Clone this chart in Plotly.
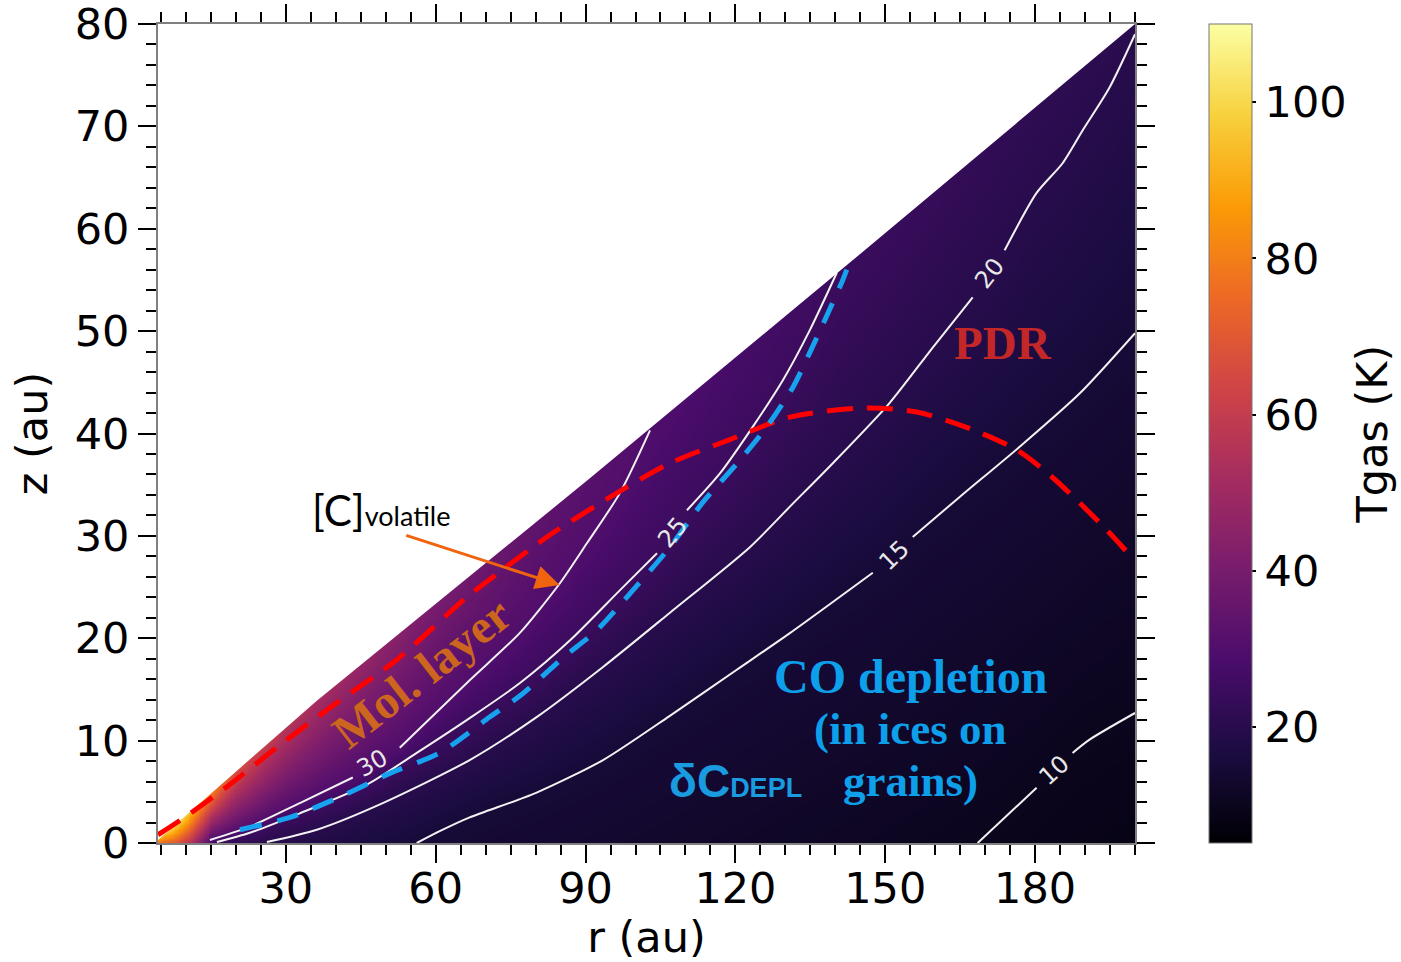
import numpy as np
import plotly.graph_objects as go

# ---------------- data ----------------
R_RANGE = [4.4, 200.0]
Z_RANGE = [0.0, 80.0]
T_RANGE = [5.2, 110.0]
CB_TICKS = [20, 40, 60, 80, 100]

# upper boundary of the model (disc surface)
SURF_R = [4.4, 36.2, 90.8, 142.2, 200.0]
SURF_Z = [0.3, 13.9, 35.6, 56.4, 80.0]
# gas temperature just below the surface
SURF_T_R = [4.4, 7, 10, 14, 20, 30, 40, 50, 60, 70, 80, 90, 103, 120, 140, 170, 200]
SURF_T = [88, 100, 98, 82, 66, 56, 50, 45, 40, 37, 34, 32, 30, 27.5, 25, 22.5, 20.5]
# gas temperature at the midplane
MID_R = [4.4, 8.0, 11.0, 13.5, 14.8, 16.2, 26.2, 56.2, 168.5, 200.0]
MID_T = [75, 70, 55, 38, 30, 25, 20, 15, 10, 8.5]

# isotherms (white contours)
ISO10_R = [168.5, 180.3, 183.9, 187.5, 190.9, 200.0]
ISO10_Z = [0.0, 5.4, 7.1, 8.8, 10.1, 12.7]
ISO15_R = [56.2, 61.0, 66.8, 80.1, 93.5, 106.8, 120.2, 130.9, 147.5, 151.9, 155.5,
           164.9, 176.9, 188.9, 200.0]
ISO15_Z = [0.0, 1.2, 2.5, 4.9, 8.1, 12.4, 16.9, 20.5, 26.4, 28.1, 29.9,
           33.8, 38.7, 43.9, 49.8]
ISO20_R = [26.2, 36.2, 49.4, 66.8, 80.2, 93.5, 106.9, 122.9, 131.2, 139.5, 150.9, 159.5,
           167.5, 170.9, 173.9, 180.3, 185.5, 189.5, 194.9, 200.0]
ISO20_Z = [0.1, 1.3, 3.9, 8.1, 12.3, 17.2, 22.5, 28.9, 33.0, 37.1, 43.0, 48.4,
           53.3, 55.7, 57.9, 63.5, 66.4, 69.6, 73.8, 79.0]
ISO25_R = [16.2, 22.8, 32.8, 46.2, 56.2, 66.8, 76.8, 86.9, 96.9, 104.3, 107.5, 110.3,
           116.9, 123.4, 129.5, 134.9, 140.3]
ISO25_Z = [0.1, 1.0, 2.9, 5.7, 8.8, 12.2, 15.6, 19.8, 24.7, 28.3, 30.4, 32.5,
           36.1, 40.6, 45.2, 50.1, 55.7]
ISO30_R = [14.8, 22.8, 32.8, 43.4, 47.4, 52.8, 66.8, 76.8, 84.9, 90.3, 96.9, 102.9]
ISO30_Z = [0.3, 1.6, 3.9, 6.4, 7.8, 9.3, 15.9, 20.5, 25.4, 29.3, 34.2, 40.3]

ISO_LEVELS = [10, 15, 20, 25, 30]
ISO_LABEL_INDEX = [2, 9, 13, 10, 4]
ISO_LABEL_ANGLE = [-42, -44, -52, -50, -30]

# PDR boundary (red dashed)
PDR_R = [4.4, 9.4, 18.2, 29.4, 40.2, 52.2, 66.2, 73.4, 83.5, 96.3, 106.9, 118.9,
         130.9, 146.3, 156.3, 166.3, 176.3, 183.5, 194.3, 199.9]
PDR_Z = [0.8, 2.4, 5.5, 9.8, 13.7, 17.9, 24.0, 26.7, 30.3, 34.2, 37.1, 39.4,
         41.6, 42.5, 42.1, 40.6, 38.4, 35.7, 30.6, 27.6]
# CO depletion boundary (blue dashed)
DEPL_R = [20.8, 30.8, 40.8, 50.8, 60.8, 70.8, 77.2, 85.5, 92.3, 99.5, 106.9, 113.5,
          120.2, 126.2, 131.5, 134.8, 138.2, 141.5, 142.3]
DEPL_Z = [1.3, 2.5, 4.5, 6.8, 8.8, 12.3, 14.5, 18.1, 20.8, 24.7, 28.9, 33.3,
          37.0, 40.6, 44.5, 47.8, 51.4, 55.0, 56.0]

ISO_R = [ISO10_R, ISO15_R, ISO20_R, ISO25_R, ISO30_R]
ISO_Z = [ISO10_Z, ISO15_Z, ISO20_Z, ISO25_Z, ISO30_Z]

# ---------------- temperature table built from the read values ----------------
r_grid = np.arange(R_RANGE[0], R_RANGE[1] + 0.5, 0.5)
z_grid = np.arange(Z_RANGE[0], Z_RANGE[1] + 0.25, 0.25)
T = np.empty((len(z_grid), len(r_grid)))
for j, r in enumerate(r_grid):
    zs = float(np.interp(r, SURF_R, SURF_Z))
    ts = float(np.interp(r, SURF_T_R, SURF_T))
    tm = float(np.interp(r, MID_R, MID_T))
    zz, tt = [0.0], [tm]
    for lvl, ir, iz in zip(ISO_LEVELS, ISO_R, ISO_Z):
        if ir[0] <= r <= ir[-1]:
            zc = float(np.interp(r, ir, iz))
            if 0.0 < zc < zs:
                zz.append(zc)
                tt.append(lvl)
    zz.append(max(zs, 1e-3))
    tt.append(ts)
    order = np.argsort(zz)
    zz = np.array(zz)[order]
    tt = np.maximum.accumulate(np.array(tt, dtype=float)[order])
    T[:, j] = np.interp(z_grid, zz, tt)

fig = go.Figure()
fig.add_trace(go.Heatmap(
    x=r_grid, y=z_grid, z=T, colorscale="Inferno", zmin=T_RANGE[0], zmax=T_RANGE[1],
    zsmooth="best", hoverinfo="skip",
    colorbar=dict(
        thickness=43, len=1.0, lenmode="fraction", y=0.5, yanchor="middle",
        x=1.0757, xanchor="left", xpad=0, ypad=0,
        outlinewidth=1, outlinecolor="#777777",
        tickmode="array", tickvals=CB_TICKS, ticks="outside", ticklen=4, tickwidth=2,
        tickcolor="black",
        tickfont=dict(family="DejaVu Sans", size=43, color="black"),
    ),
))

# white mask above the disc surface
fig.add_trace(go.Scatter(
    x=SURF_R + [R_RANGE[1], R_RANGE[0]], y=SURF_Z + [Z_RANGE[1] + 1, Z_RANGE[1] + 1],
    fill="toself", fillcolor="white", mode="lines", line=dict(width=0, color="white"),
    hoverinfo="skip", showlegend=False))

# isotherms with a gap at the label
for lvl, ir, iz, li, ang in zip(ISO_LEVELS, ISO_R, ISO_Z, ISO_LABEL_INDEX, ISO_LABEL_ANGLE):
    xs = list(ir[:li]) + [None] + list(ir[li + 1:])
    ys = list(iz[:li]) + [None] + list(iz[li + 1:])
    fig.add_trace(go.Scatter(x=xs, y=ys, mode="lines",
                             line=dict(color="#f2f2f2", width=2, shape="spline", smoothing=0.7),
                             hoverinfo="skip", showlegend=False))
    fig.add_annotation(x=ir[li], y=iz[li], text=str(lvl), showarrow=False, textangle=ang,
                       font=dict(family="DejaVu Sans", size=24, color="#e8e8e8"))

fig.add_trace(go.Scatter(x=PDR_R, y=PDR_Z, mode="lines",
                         line=dict(color="#ff0000", width=5, dash="26px,14px",
                                   shape="spline", smoothing=0.8),
                         hoverinfo="skip", showlegend=False))
fig.add_trace(go.Scatter(x=DEPL_R, y=DEPL_Z, mode="lines",
                         line=dict(color="#16a2ee", width=5, dash="22px,16px",
                                   shape="spline", smoothing=0.7),
                         hoverinfo="skip", showlegend=False))

# text labels
fig.add_annotation(x=173.5, y=48.8, text="<b>PDR</b>", showarrow=False,
                   font=dict(family="Liberation Serif", size=47, color="#c42727"))
fig.add_annotation(x=57.2, y=16.7, text="<b>Mol. layer</b>", showarrow=False, textangle=-38,
                   font=dict(family="Liberation Serif", size=48, color="#cc661e"))
fig.add_annotation(x=155.0, y=16.3, text="<b>CO depletion</b>", showarrow=False,
                   font=dict(family="Liberation Serif", size=48, color="#0d9fea"))
fig.add_annotation(x=155.0, y=11.1, text="<b>(in ices on</b>", showarrow=False,
                   font=dict(family="Liberation Serif", size=45, color="#0d9fea"))
fig.add_annotation(x=155.0, y=6.1, text="<b>grains)</b>", showarrow=False,
                   font=dict(family="Liberation Serif", size=45, color="#0d9fea"))
fig.add_annotation(x=120.0, y=6.1,
                   text="<b>δC<span style='font-size:27px'>DEPL</span></b>", showarrow=False,
                   font=dict(family="Liberation Sans", size=46, color="#1a9be0"))
fig.add_annotation(x=49.1, y=32.5,
                   text="[C]<span style='font-size:27px'>volatile</span>", showarrow=False,
                   font=dict(family="Lato", size=42, color="black"))
fig.add_annotation(x=84.8, y=25.2, ax=53.8, ay=30.1, axref="x", ayref="y", text="",
                   showarrow=True, arrowhead=2, arrowsize=1.6, arrowwidth=3,
                   arrowcolor="#f0640f", standoff=0)
# colour-bar title
fig.add_annotation(xref="paper", yref="paper", x=1.2425, y=0.5, xanchor="center",
                   yanchor="middle", text="Tgas (K)", showarrow=False, textangle=-90,
                   font=dict(family="DejaVu Sans", size=43, color="black"))

tickfont = dict(family="DejaVu Sans", size=43, color="black")
axis_common = dict(ticks="outside", ticklen=18, tickwidth=2, tickcolor="black",
                   showline=True, linecolor="#808080", linewidth=2, mirror="allticks",
                   showgrid=False, zeroline=False, tickfont=tickfont, automargin=False,
                   ticklabeloverflow="allow")
fig.update_xaxes(range=R_RANGE, tickmode="linear", tick0=30, dtick=30, ticklabelstandoff=-12,
                 minor=dict(tick0=0, dtick=5, ticks="outside", ticklen=10, tickwidth=2,
                            tickcolor="black", showgrid=False),
                 title=dict(text="r (au)", font=tickfont, standoff=0), **axis_common)
fig.update_yaxes(range=Z_RANGE, tickmode="linear", tick0=0, dtick=10,
                 minor=dict(tick0=0, dtick=2, ticks="outside", ticklen=10, tickwidth=2,
                            tickcolor="black", showgrid=False),
                 title=dict(text="z (au)", font=tickfont, standoff=14), **axis_common)

fig.update_layout(width=1401, height=962, margin=dict(l=158, r=266, t=24, b=119),
                  plot_bgcolor="white", paper_bgcolor="white", showlegend=False)
fig.write_html("out.html")
